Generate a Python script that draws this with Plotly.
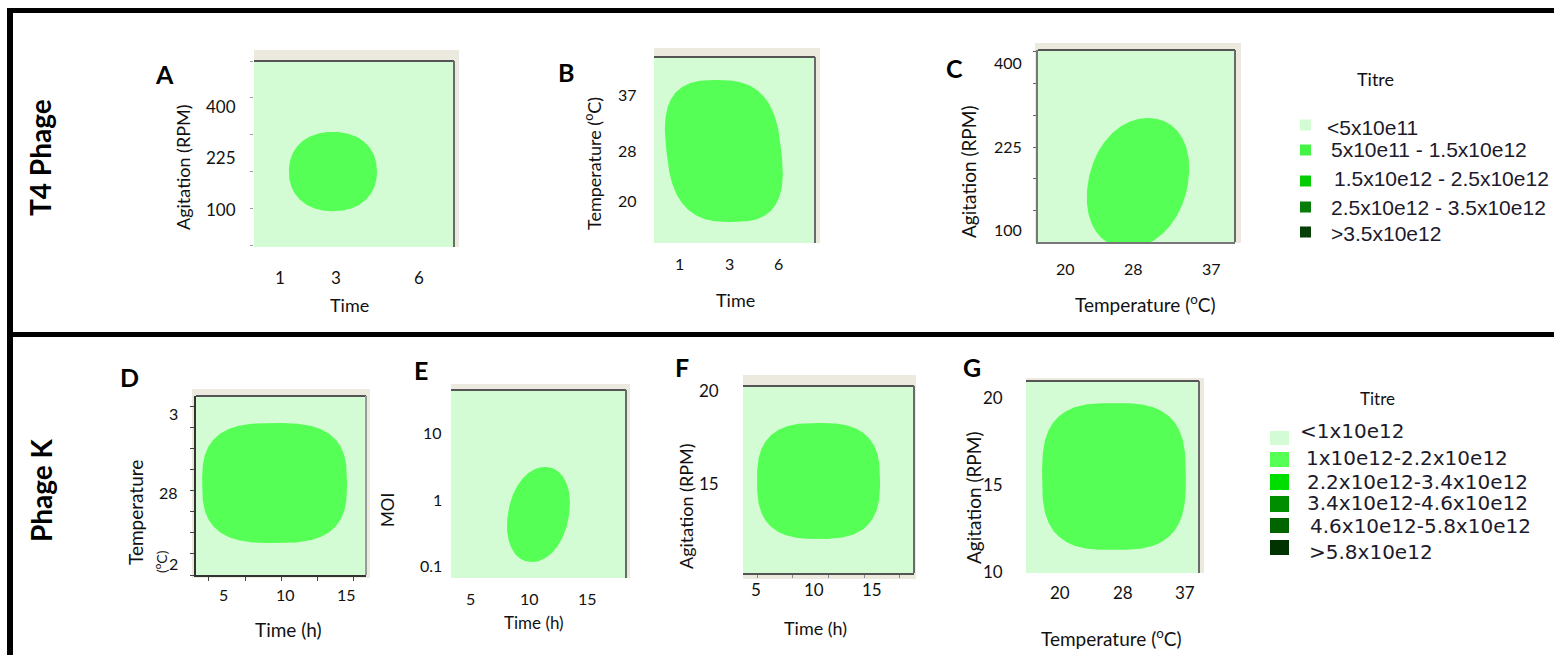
import numpy as np
import plotly.graph_objects as go

W, H = 1554, 655

# ===================== DATA =====================
row_labels = ["T4 Phage", "Phage K"]
panel_letters = ["A", "B", "C", "D", "E", "F", "G"]

x_titles = ["Time", "Time", "Temperature (<sup>o</sup>C)", "Time (h)", "Time (h)",
            "Time (h)", "Temperature (<sup>o</sup>C)"]
y_titles = ["Agitation (RPM)", "Temperature (<sup>o</sup>C)", "Agitation (RPM)",
            "Temperature", "MOI", "Agitation (RPM)", "Agitation (RPM)"]

# tick labels and the level each one sits at (coded -1/0/+1 where the scale is coded)
A_x_labels, A_x_levels = ["1", "3", "6"], [1, 3, 6]
A_y_labels, A_y_levels = ["400", "225", "100"], [1, 0, -1]
B_x_labels, B_x_levels = ["1", "3", "6"], [-1, 0, 1]
B_y_labels, B_y_levels = ["37", "28", "20"], [37, 28, 20]
C_x_labels, C_x_levels = ["20", "28", "37"], [20, 28, 37]
C_y_labels, C_y_levels = ["400", "225", "100"], [1, 0, -1]
D_x_labels, D_x_levels = ["5", "10", "15"], [5, 10, 15]
D_y_labels, D_y_levels = ["3", "28", "2"], [37, 28, 20]
E_x_labels, E_x_levels = ["5", "10", "15"], [5, 10, 15]
E_y_labels, E_y_levels = ["10", "1", "0.1"], [10, 1, 0.1]
F_x_labels, F_x_levels = ["5", "10", "15"], [5, 10, 15]
F_y_labels, F_y_levels = ["20", "15", "10"], [20, 15, 10]
G_x_labels, G_x_levels = ["20", "28", "37"], [-1, 0, 1]
G_y_labels, G_y_levels = ["20", "15", "10"], [20, 15, 10]

# second titre band region of each response surface: centre, half extent, squareness, tilt
region_cx = [2.90, -0.11, 28.49, 9.15, 10.78, 10.42, -0.14]
region_cy = [-0.27, 27.96, -0.443, 29.12, -0.233, 15.11, 15.45]   # E: log10(MOI)
region_rx = [1.58, 1.16, 5.83, 5.89, 2.62, 5.30, 1.15]
region_ry = [0.77, 11.39, 0.778, 6.80, 0.714, 3.12, 4.22]
region_sq = [2.2, 2.8, 2.1, 2.9, 2.1, 2.8, 3.0]
region_tilt = [0.0, -0.15, 1.17, 0.0, 0.56, 0.0, 0.0]

t4_titre_labels = ["<5x10e11", "5x10e11 - 1.5x10e12", "1.5x10e12 - 2.5x10e12",
                   "2.5x10e12 - 3.5x10e12", ">3.5x10e12"]
t4_titre_colors = ["#d4fcd4", "#44f444", "#06cc06", "#087c08", "#053f05"]
k_titre_labels = ["<1x10e12", "1x10e12-2.2x10e12", "2.2x10e12-3.4x10e12",
                  "3.4x10e12-4.6x10e12", "4.6x10e12-5.8x10e12", ">5.8x10e12"]
k_titre_colors = ["#d4fcd4", "#55ff55", "#00dd00", "#008e00", "#006400", "#003300"]

# ===================== LAYOUT GEOMETRY (pixels) =====================
x_ticks = [(A_x_labels, A_x_levels), (B_x_labels, B_x_levels), (C_x_labels, C_x_levels),
           (D_x_labels, D_x_levels), (E_x_labels, E_x_levels), (F_x_labels, F_x_levels),
           (G_x_labels, G_x_levels)]
y_ticks = [(A_y_labels, A_y_levels), (B_y_labels, B_y_levels), (C_y_labels, C_y_levels),
           (D_y_labels, D_y_levels), (E_y_labels, E_y_levels), (F_y_labels, F_y_levels),
           (G_y_labels, G_y_levels)]

plot_box = [(254, 61, 454, 247), (654, 57, 815, 243), (1038, 50, 1235, 242),
            (196, 396, 366, 575), (451, 390, 626, 578), (743, 386, 914, 573),
            (1026, 381, 1199, 573)]
frame_box = [(254, 50, 459, 247), (654, 48, 820, 243), (1035, 43, 1241, 243),
             (192, 389, 370, 578), (451, 384, 630, 578), (743, 375, 916, 579),
             (1026, 378, 1204, 573)]
x_ranges = [[0.068, 7.244], [-1.521, 1.731], [16.84, 39.79], [2.764, 16.585],
            [3.305, 18.262], [3.908, 18.649], [-1.547, 1.221]]
y_ranges = [[-1.735, 1.877], [13.20, 43.04], [-1.150, 1.150], [18.70, 38.98],
            [-1.188, 1.639], [10.161, 20.215], [9.904, 20.939]]
y_log = [False, False, False, False, True, False, False]

letter_pos = [(164, 74), (566, 72), (954, 68), (129, 377), (421, 370), (682, 367), (972, 367)]
ytitle_pos = [(183, 167), (593, 164), (968, 172), (135, 513), (387, 510), (686, 506), (973, 498)]
xtitle_pos = [(349, 305), (735, 300), (1145, 303), (288, 629), (534, 622), (816, 628), (1111, 637)]
xtick_py = [277, 263, 268, 594, 598, 589, 592]
ytick_px = [238, 639, 1024, 180, 444, 721, 1005]
tick_fs = [17, 16, 16, 16, 16, 17, 17]
title_fs = [18, 18, 19, 19, 17, 18, 19]

BG = "#d4fcd4"
REGION = "#55ff55"
BEIGE = "#ece9df"
CAL = "Lato, Carlito, Calibri, sans-serif"


def px(x):
    return x / W


def py(y):
    return 1 - y / H


def esc(s):
    return s.replace("<", "&lt;").replace(">", "&gt;")


def note(x, y, text, size, family=CAL, color="#111111", xanchor="center", angle=0,
         xref="paper", yref="paper"):
    return dict(x=x, y=y, xref=xref, yref=yref, text=text, showarrow=False,
                xanchor=xanchor, yanchor="middle", textangle=angle,
                font=dict(family=family, size=size, color=color))


fig = go.Figure()
annotations = []
shapes = []

t = np.linspace(0, 2 * np.pi, 361)
for i in range(7):
    n = "" if i == 0 else str(i + 1)
    xa, ya = "x" + n, "y" + n
    L, T, R, B = plot_box[i]
    fig.layout["xaxis" + n] = dict(domain=[px(L), px(R)], range=x_ranges[i], anchor=ya,
                                   showgrid=False, zeroline=False, showticklabels=False,
                                   ticks="", showline=False, fixedrange=True)
    fig.layout["yaxis" + n] = dict(domain=[py(B), py(T)], range=y_ranges[i], anchor=xa,
                                   type="log" if y_log[i] else "linear",
                                   showgrid=False, zeroline=False, showticklabels=False,
                                   ticks="", showline=False, fixedrange=True)

    # region outline (superellipse with a slight tilt)
    c, s = np.cos(t), np.sin(t)
    u = np.sign(c) * np.abs(c) ** (2 / region_sq[i])
    v = np.sign(s) * np.abs(s) ** (2 / region_sq[i])
    xs = region_cx[i] + region_rx[i] * u + region_tilt[i] * v
    ys = region_cy[i] + region_ry[i] * v
    if y_log[i]:
        ys = 10 ** ys
    fig.add_trace(go.Scatter(x=xs, y=ys, xaxis=xa, yaxis=ya, mode="lines",
                             fill="toself", fillcolor=REGION, line=dict(width=0),
                             hoverinfo="skip", showlegend=False))

    # beige image border, then the light-green plot area on top of it
    fL, fT, fR, fB = frame_box[i]
    shapes.append(dict(type="rect", xref="paper", yref="paper", x0=px(fL), x1=px(fR),
                       y0=py(fB), y1=py(fT), fillcolor=BEIGE, line=dict(width=0),
                       layer="below"))
    shapes.append(dict(type="rect", xref=xa + " domain", yref=ya + " domain",
                       x0=0, x1=1, y0=0, y1=1, fillcolor=BG, line=dict(width=0),
                       layer="below"))
    # dark top / right edges
    shapes.append(dict(type="line", xref=xa + " domain", yref=ya + " domain",
                       x0=0, x1=1, y0=1, y1=1, line=dict(color="#555555", width=2)))
    shapes.append(dict(type="line", xref=xa + " domain", yref=ya + " domain",
                       x0=1, x1=1, y0=0, y1=1,
                       line=dict(color="#9a9a9a" if i == 3 else "#6a6a6a", width=2)))

    # tick labels
    labs, levs = x_ticks[i]
    for lab, lev in zip(labs, levs):
        annotations.append(note(lev, py(xtick_py[i]), lab, tick_fs[i], xref=xa))
    labs, levs = y_ticks[i]
    for lab, lev in zip(labs, levs):
        yv = float(np.log10(lev)) if y_log[i] else lev
        annotations.append(note(px(ytick_px[i]), yv, lab, tick_fs[i], xanchor="right",
                                yref=ya))
    # axis titles
    annotations.append(note(px(xtitle_pos[i][0]), py(xtitle_pos[i][1]), x_titles[i],
                            title_fs[i]))
    annotations.append(note(px(ytitle_pos[i][0]), py(ytitle_pos[i][1]), y_titles[i],
                            title_fs[i], angle=-90))
    # panel letter
    annotations.append(note(px(letter_pos[i][0]), py(letter_pos[i][1]),
                            "<b>%s</b>" % panel_letters[i], 25, color="#000000"))

# small edge ticks of the original software frames
fig.layout["yaxis"].update(ticks="outside", ticklen=3, tickcolor="#9a9a9a",
                           tick0=1.159, dtick=0.718)
fig.layout["xaxis3"].update(showline=True, linecolor="#777777", linewidth=2)
fig.layout["yaxis3"].update(showline=True, linecolor="#777777", linewidth=2,
                            ticks="outside", ticklen=3, tickcolor="#666666",
                            tick0=0.754, dtick=0.383)
fig.layout["xaxis4"].update(showline=True, linecolor="#333333", linewidth=1.5,
                            ticks="outside", ticklen=4, tickcolor="#444444",
                            tick0=3.82, dtick=2.93)
fig.layout["yaxis4"].update(showline=True, linecolor="#333333", linewidth=1.5,
                            ticks="outside", ticklen=4, tickcolor="#444444",
                            tick0=37.74, dtick=2.38)
fig.layout["xaxis6"].update(showline=True, linecolor="#555555", linewidth=2,
                            ticks="outside", ticklen=3, tickcolor="#8a8a8a",
                            tick0=5.115, dtick=3.08)
# garbled degree unit next to D's axis
annotations.append(note(px(160), py(562), "(<sup>o</sup>C)", 14, angle=-90))

# row labels
for lab, (x0, y0) in zip(row_labels, [(40, 158), (41, 490)]):
    annotations.append(note(px(x0), py(y0), "<b>%s</b>" % lab, 28, color="#000000",
                            angle=-90))

# ---------- legend T4 ----------
annotations.append(note(px(1375), py(79), "Titre", 18))
leg1_rows = [125, 150, 181, 207, 232]
leg1_textx = [1325, 1329, 1332, 1329, 1329]
leg1_texty = [127, 150, 178, 207, 233]
for k, (lab, col) in enumerate(zip(t4_titre_labels, t4_titre_colors)):
    yc = leg1_rows[k]
    shapes.append(dict(type="rect", xref="paper", yref="paper", x0=px(1300), x1=px(1311),
                       y0=py(yc + 5.5), y1=py(yc - 5.5), fillcolor=col, line=dict(width=0)))
    annotations.append(note(px(leg1_textx[k]), py(leg1_texty[k]), esc(lab), 21,
                            family="Liberation Sans, Arial", color="#1c1a2c",
                            xanchor="left"))

# ---------- legend K ----------
annotations.append(note(px(1377), py(398), "Titre", 17))
leg2_rows = [(431, 445), (452, 467), (474, 490), (496, 512), (518, 533), (540, 555)]
leg2_textx = [1298, 1304, 1305, 1305, 1308, 1307]
leg2_texty = [431, 458, 482, 503, 526, 552]
for k, (lab, col) in enumerate(zip(k_titre_labels, k_titre_colors)):
    y0, y1 = leg2_rows[k]
    shapes.append(dict(type="rect", xref="paper", yref="paper", x0=px(1270), x1=px(1289),
                       y0=py(y1), y1=py(y0), fillcolor=col, line=dict(width=0)))
    annotations.append(note(px(leg2_textx[k]), py(leg2_texty[k]), esc(lab), 20,
                            family="DejaVu Sans", color="#1c1a2c", xanchor="left"))

# ---------- outer black frame ----------
for (x0, y0, x1, y1) in [(7, 8, W, 13), (7, 8, 13, H), (7, 332, W, 337)]:
    shapes.append(dict(type="rect", xref="paper", yref="paper", x0=px(x0), x1=px(x1),
                       y0=py(y1), y1=py(y0), fillcolor="#000000", line=dict(width=0),
                       layer="above"))

fig.update_layout(width=W, height=H, margin=dict(l=0, r=0, t=0, b=0),
                  paper_bgcolor="white", plot_bgcolor=BG, showlegend=False,
                  annotations=annotations, shapes=shapes)

fig.write_html("out.html")
